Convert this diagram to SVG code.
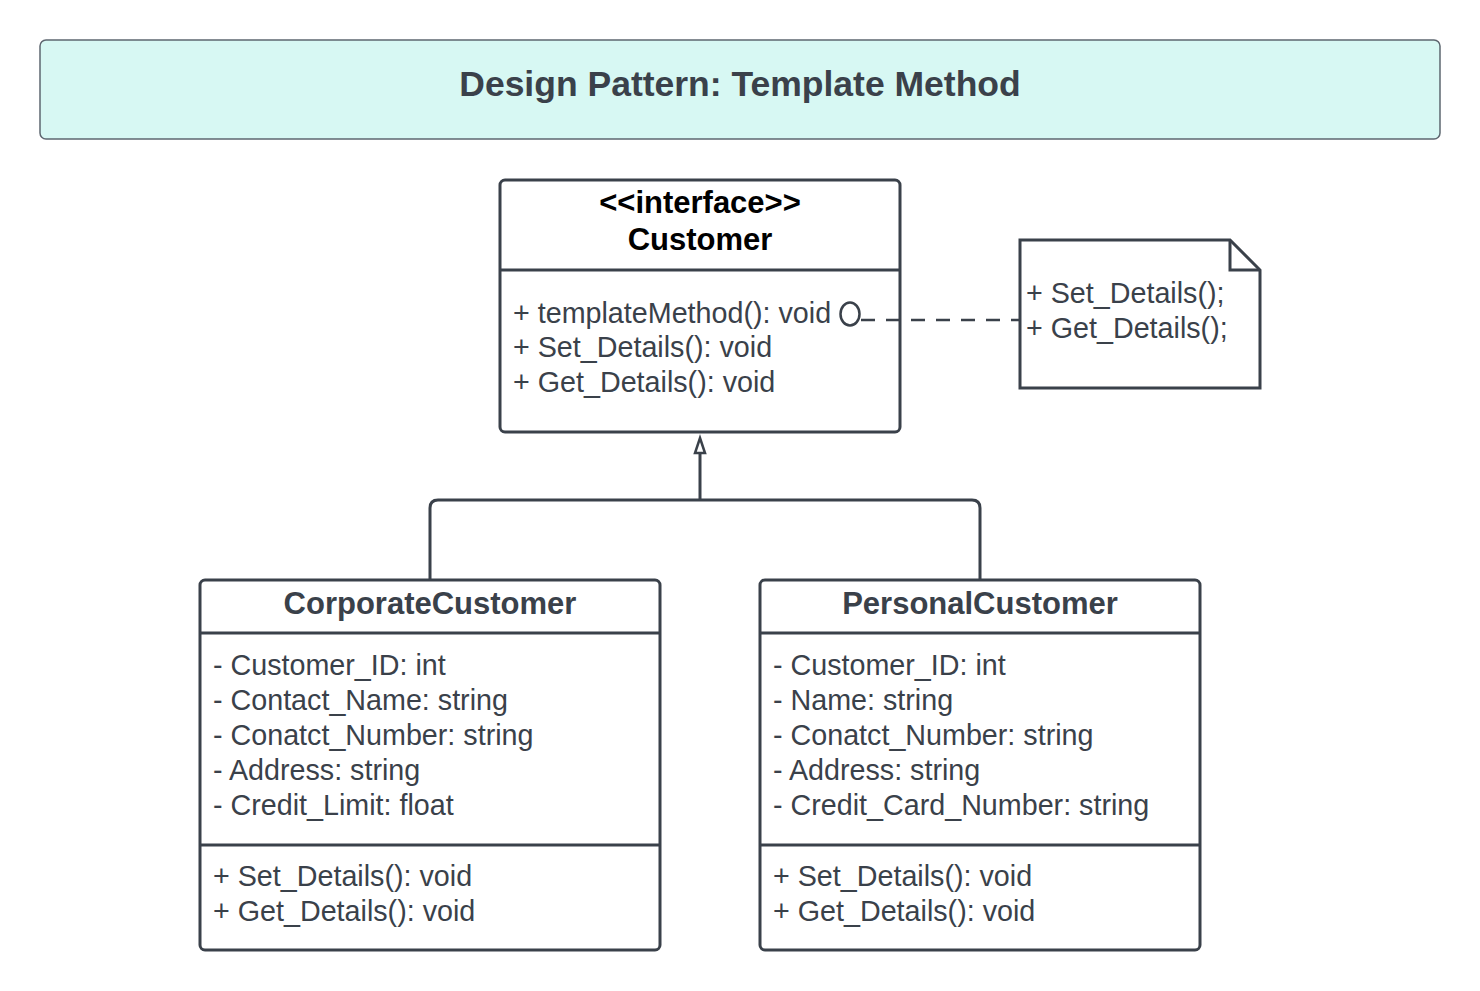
<svg xmlns="http://www.w3.org/2000/svg" width="1480" height="991" viewBox="0 0 1480 991">
<style>
.box{fill:#ffffff;stroke:#3a414a;stroke-width:3}
.div{stroke:#3a414a;stroke-width:3;fill:none}
.hd{font-family:"Liberation Sans",Arial,sans-serif;font-weight:bold;font-size:31px;fill:#3a414a;text-anchor:middle}
.tx{font-family:"Liberation Sans",Arial,sans-serif;font-size:28.7px;fill:#3a414a}
.conn{stroke:#3a414a;stroke-width:3;fill:none}
</style>
<rect width="1480" height="991" fill="#ffffff"/>
<g id="title">
<rect x="40" y="40" width="1400" height="99" rx="6" fill="#d7f8f3" stroke="#5e6770" stroke-width="1.5"/>
<text x="740" y="96" class="hd" style="font-size:35.5px">Design Pattern: Template Method</text>
</g>
<g id="customer">
<rect class="box" x="500" y="180" width="400" height="252" rx="5"/>
<line class="div" x1="500" y1="270" x2="900" y2="270"/>
<text x="700" y="213" class="hd" style="fill:#000000">&lt;&lt;interface&gt;&gt;</text>
<text x="700" y="250" class="hd" style="fill:#000000">Customer</text>
<text x="513" y="323" class="tx">+ templateMethod(): void</text>
<text x="513" y="357" class="tx">+ Set_Details(): void</text>
<text x="513" y="392" class="tx">+ Get_Details(): void</text>
</g>
<g id="note">
<path d="M1020,240 H1230 L1260,270 V388 H1020 Z" fill="#ffffff" stroke="#3a414a" stroke-width="3" stroke-linejoin="miter"/>
<path d="M1230,240 V270 H1260" fill="none" stroke="#3a414a" stroke-width="3"/>
<text x="1026" y="303" class="tx">+ Set_Details();</text>
<text x="1026" y="338" class="tx">+ Get_Details();</text>
</g>
<g id="corporate">
<rect class="box" x="200" y="580" width="460" height="370" rx="5"/>
<line class="div" x1="200" y1="633" x2="660" y2="633"/>
<line class="div" x1="200" y1="845" x2="660" y2="845"/>
<text x="430" y="614" class="hd">CorporateCustomer</text>
<text x="213" y="675" class="tx">- Customer_ID: int</text>
<text x="213" y="710" class="tx">- Contact_Name: string</text>
<text x="213" y="745" class="tx">- Conatct_Number: string</text>
<text x="213" y="780" class="tx">- Address: string</text>
<text x="213" y="815" class="tx">- Credit_Limit: float</text>
<text x="213" y="886" class="tx">+ Set_Details(): void</text>
<text x="213" y="921" class="tx">+ Get_Details(): void</text>
</g>
<g id="personal">
<rect class="box" x="760" y="580" width="440" height="370" rx="5"/>
<line class="div" x1="760" y1="633" x2="1200" y2="633"/>
<line class="div" x1="760" y1="845" x2="1200" y2="845"/>
<text x="980" y="614" class="hd">PersonalCustomer</text>
<text x="773" y="675" class="tx">- Customer_ID: int</text>
<text x="773" y="710" class="tx">- Name: string</text>
<text x="773" y="745" class="tx">- Conatct_Number: string</text>
<text x="773" y="780" class="tx">- Address: string</text>
<text x="773" y="815" class="tx">- Credit_Card_Number: string</text>
<text x="773" y="886" class="tx">+ Set_Details(): void</text>
<text x="773" y="921" class="tx">+ Get_Details(): void</text>
</g>
<g id="connectors">
<path class="conn" d="M430,580 V508 Q430,500 438,500 H972 Q980,500 980,508 V580"/>
<path class="conn" d="M700,500 V452"/>
<path d="M700,438 L705,453 L695,453 Z" fill="#ffffff" stroke="#3a414a" stroke-width="2.5"/>
<line x1="861" y1="320" x2="1020" y2="320" stroke="#3a414a" stroke-width="2.5" stroke-dasharray="14 11"/>
<ellipse cx="850" cy="314" rx="9.5" ry="11.5" fill="none" stroke="#3a414a" stroke-width="2.5"/>
</g>
</svg>
